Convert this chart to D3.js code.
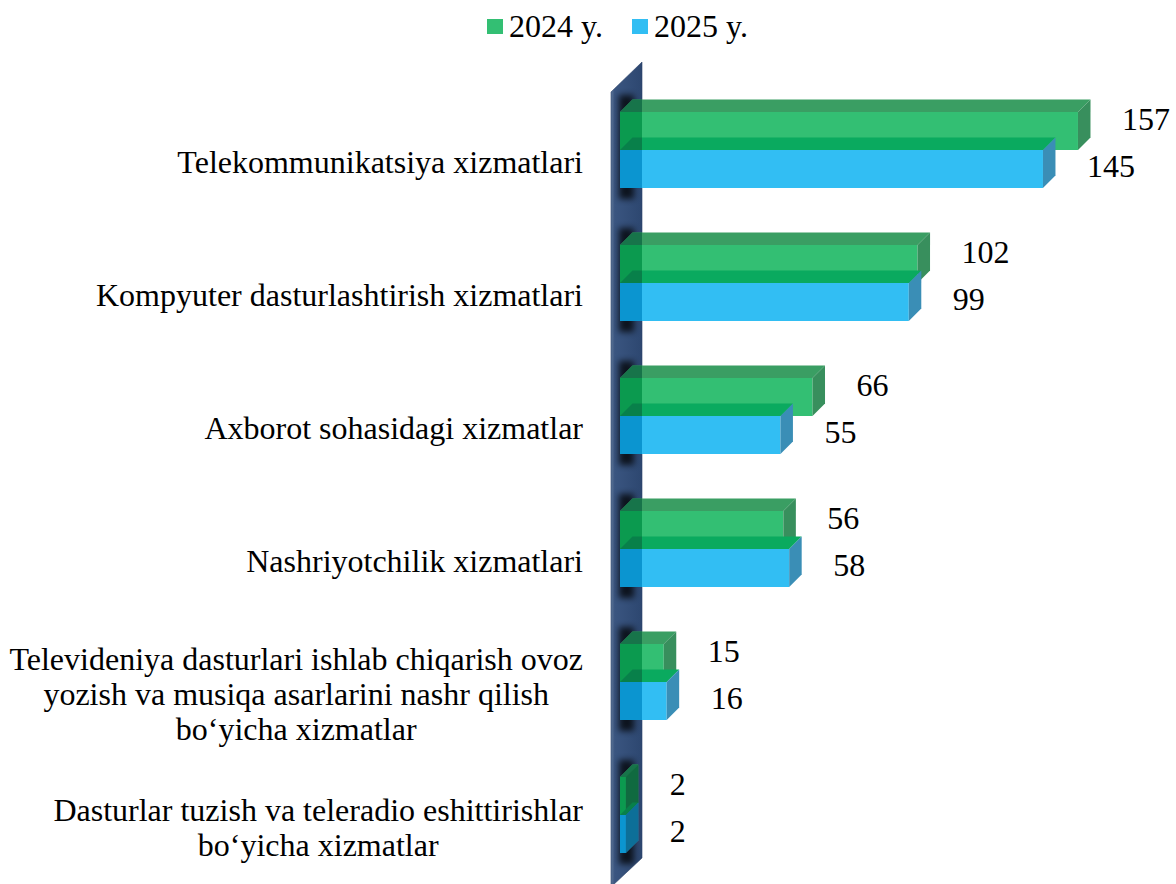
<!DOCTYPE html>
<html>
<head>
<meta charset="utf-8">
<script src="https://cdn.jsdelivr.net/npm/d3@7"></script>
<style>
  body { margin: 0; background: #fff; }
  text { font-family: "Liberation Serif", "Times New Roman", serif; fill: #000; }
</style>
</head>
<body>
<svg id="chart"></svg>
<script>
// chart data
const categories = [
    "Telekommunikatsiya xizmatlari",
    "Kompyuter dasturlashtirish xizmatlari",
    "Axborot sohasidagi xizmatlar",
    "Nashriyotchilik xizmatlari",
    "Televideniya dasturlari ishlab chiqarish ovoz\nyozish va musiqa asarlarini nashr qilish\nbo‘yicha xizmatlar",
    "Dasturlar tuzish va teleradio eshittirishlar\nbo‘yicha xizmatlar"
];
const seriesNames = ["2024 y.", "2025 y."];
const values2024 = [157, 102, 66, 56, 15, 2];
const values2025 = [145, 99, 55, 58, 16, 2];

function drawChart() {
    const W = 1176, H = 884;
    const dx = 12.5, dy = -12.5; // depth of bars

    const svg = d3.select("#chart").attr("width", W).attr("height", H);
    const defs = svg.append("defs");

    const series = [
        { name: seriesNames[0], values: values2024, front: "#33bf73", top: "#3a9e63", side: "#388f5d",
          dFront: "#0b9a4f", dTop: "#17744a", dSide: "#106a40", labelShift: -12 },
        { name: seriesNames[1], values: values2025, front: "#32bef3", top: "#0aaa5f", side: "#3a8eb6",
          dFront: "#0b95d0", dTop: "#08804a", dSide: "#0d6f98", labelShift: -3 }
    ];

    const x = d3.scaleLinear().domain([0, 180]).range([620, 620 + 180 * 2.917]);
    const y = d3.scaleBand().domain(categories).range([83.5, 881.5])
        .paddingInner(0.4286).paddingOuter(0.2143);
    const ySub = d3.scaleBand().domain(seriesNames).range([0, y.bandwidth()]);

    // wall on the left of the bars
    const wx0 = x(0) - 9, wx1 = x(0) + 22;
    const wallPts = [[wx0, 92], [wx1, 62], [wx1, 858], [wx0, 887]];

    const grad = defs.append("linearGradient").attr("id", "wallGrad")
        .attr("x1", "0").attr("x2", "1").attr("y1", "0").attr("y2", "0");
    grad.append("stop").attr("offset", "0").attr("stop-color", "#5d7597");
    grad.append("stop").attr("offset", "0.12").attr("stop-color", "#3a5580");
    grad.append("stop").attr("offset", "1").attr("stop-color", "#2d4770");

    defs.append("clipPath").attr("id", "wallClip")
        .append("polygon").attr("points", wallPts.map(p => p.join(",")).join(" "));
    defs.append("filter").attr("id", "blur")
        .attr("x", "-50%").attr("y", "-50%").attr("width", "200%").attr("height", "200%")
        .append("feGaussianBlur").attr("stdDeviation", 3);

    svg.append("polygon")
        .attr("points", wallPts.map(p => p.join(",")).join(" "))
        .attr("fill", "url(#wallGrad)")
        .attr("stroke", "#2a4268").attr("stroke-width", 0.6);

    // shadows cast by each group on the wall
    svg.append("g").attr("clip-path", "url(#wallClip)")
        .selectAll("rect").data(categories).enter().append("rect")
        .attr("x", x(0) - 1)
        .attr("y", d => y(d) - 17)
        .attr("width", 15)
        .attr("height", d => y.bandwidth() + 28)
        .attr("fill", "#000")
        .attr("opacity", 0.75)
        .attr("filter", "url(#blur)");

    // flatten to bar records
    const bars = [];
    series.forEach(s => {
        s.values.forEach((v, i) => {
            bars.push({ s: s, v: v, cat: categories[i] });
        });
    });

    function geom(d) {
        const x0 = x(0), x1 = x(d.v);
        const y0 = y(d.cat) + ySub(d.s.name), h = ySub.bandwidth();
        return {
            front: [[x0, y0], [x1, y0], [x1, y0 + h], [x0, y0 + h]],
            top: [[x0, y0], [x1, y0], [x1 + dx, y0 + dy], [x0 + dx, y0 + dy]],
            side: [[x1, y0], [x1 + dx, y0 + dy], [x1 + dx, y0 + h + dy], [x1, y0 + h]]
        };
    }
    const pts = a => a.map(p => p.join(",")).join(" ");

    function drawBars(g, dark) {
        const bar = g.selectAll(".bar").data(bars).enter().append("g").attr("class", "bar");
        bar.append("polygon").attr("points", d => pts(geom(d).top))
            .attr("fill", d => dark ? d.s.dTop : d.s.top);
        bar.append("polygon").attr("points", d => pts(geom(d).front))
            .attr("fill", d => dark ? d.s.dFront : d.s.front);
        bar.append("polygon").attr("points", d => pts(geom(d).side))
            .attr("fill", d => dark ? d.s.dSide : d.s.side);
    }
    drawBars(svg.append("g"), false);
    drawBars(svg.append("g").attr("clip-path", "url(#wallClip)"), true);

    // value labels
    svg.append("g").selectAll("text").data(bars).enter().append("text")
        .attr("x", d => x(d.v) + 44)
        .attr("y", d => y(d.cat) + ySub(d.s.name) + ySub.bandwidth() / 2 + d.s.labelShift + 11)
        .attr("font-size", 32)
        .text(d => d.v);

    // category labels, lines centred, block right-aligned
    const labelRight = 583, lineH = 35;
    categories.forEach(c => {
        const lines = c.split("\n");
        const g = svg.append("g");
        const t = g.selectAll("text").data(lines).enter().append("text")
            .attr("font-size", 32)
            .attr("text-anchor", "middle")
            .text(d => d);
        let maxW = 0;
        t.each(function () { maxW = Math.max(maxW, this.getComputedTextLength()); });
        const cy = y(c) + y.bandwidth() / 2 + 13;
        t.attr("x", labelRight - maxW / 2)
            .attr("y", (d, i) => cy + 10 + (i - (lines.length - 1) / 2) * lineH);
    });

    // legend
    const legend = svg.append("g");
    const legX = [487, 632];
    series.forEach((s, i) => {
        legend.append("rect").attr("x", legX[i]).attr("y", 19)
            .attr("width", 16).attr("height", 15).attr("fill", s.front);
        legend.append("text").attr("x", legX[i] + 22).attr("y", 37)
            .attr("font-size", 32).text(s.name);
    });
}

drawChart();
</script>
</body>
</html>
